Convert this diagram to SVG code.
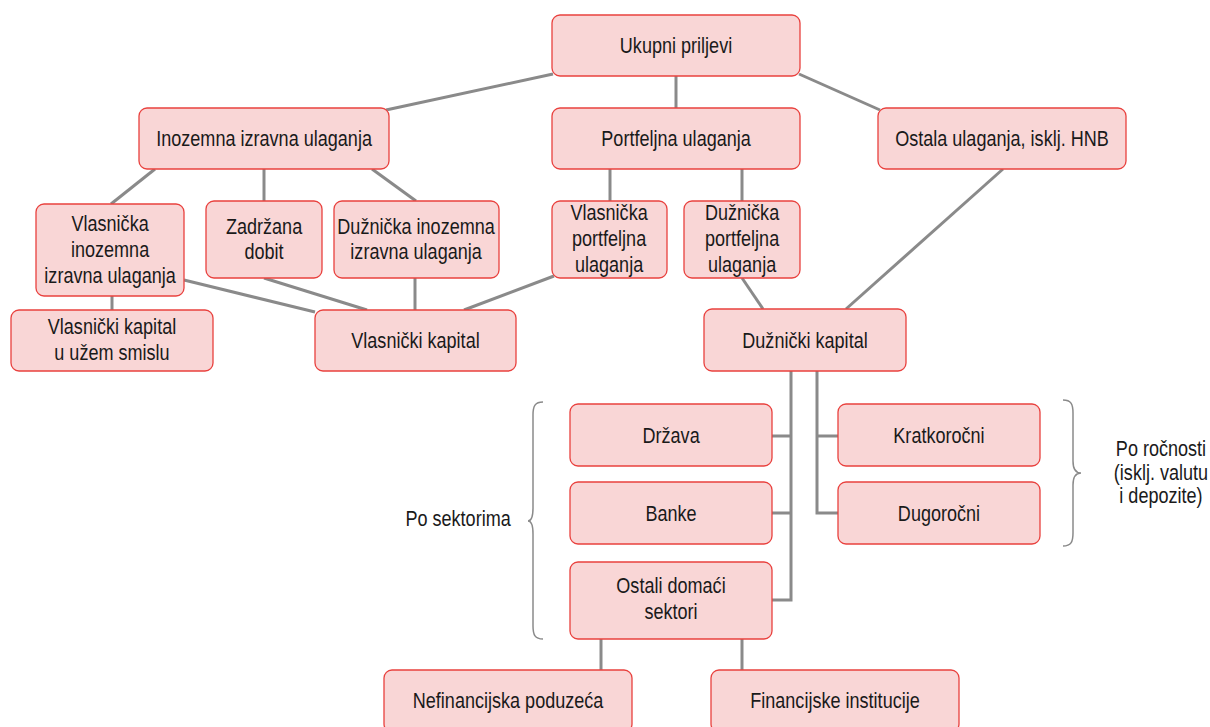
<svg xmlns="http://www.w3.org/2000/svg" width="1210" height="727" viewBox="0 0 1210 727">
<style>
.box{fill:#f9d6d6;stroke:#e9413e;stroke-width:1.3}
.t{font-family:"Liberation Sans",Arial,sans-serif;font-size:21.5px;fill:#1a1a1a;text-anchor:middle;transform-box:fill-box;transform-origin:center;transform:scaleX(0.84)}
.c{fill:none;stroke:#8a8a8a;stroke-width:3}
.br{fill:none;stroke:#8a8a8a;stroke-width:1.5}
</style>
<rect width="1210" height="727" fill="#ffffff"/>
<g id="connectors">
<line class="c" x1="553" y1="74" x2="386" y2="110"/>
<line class="c" x1="676" y1="76" x2="676" y2="108"/>
<line class="c" x1="799" y1="74" x2="880" y2="110"/>
<line class="c" x1="155" y1="169" x2="111" y2="204"/>
<line class="c" x1="264" y1="169" x2="264" y2="201"/>
<line class="c" x1="372" y1="169" x2="416" y2="201"/>
<line class="c" x1="610" y1="169" x2="610" y2="201"/>
<line class="c" x1="742" y1="169" x2="742" y2="201"/>
<line class="c" x1="1003" y1="169" x2="846" y2="309"/>
<line class="c" x1="112" y1="296" x2="112" y2="310"/>
<line class="c" x1="184" y1="280" x2="315" y2="312"/>
<line class="c" x1="264" y1="278" x2="367" y2="310"/>
<line class="c" x1="415" y1="278" x2="415" y2="310"/>
<line class="c" x1="554" y1="276" x2="464" y2="310"/>
<line class="c" x1="742" y1="278" x2="763" y2="309"/>
<path class="c" d="M791,371 V600 H772 M791,436 H772 M791,513 H772"/>
<path class="c" d="M817,371 V513 H838 M817,436 H838"/>
<line class="c" x1="601" y1="639" x2="601" y2="670"/>
<line class="c" x1="742" y1="639" x2="742" y2="670"/>
</g>
<g id="n1"><rect class="box" x="552" y="15" width="248" height="61" rx="8"/><text class="t" x="676" y="53">Ukupni priljevi</text></g>
<g id="n2"><rect class="box" x="139" y="108" width="250" height="61" rx="8"/><text class="t" x="264" y="146">Inozemna izravna ulaganja</text></g>
<g id="n3"><rect class="box" x="552" y="108" width="248" height="61" rx="8"/><text class="t" x="676" y="146">Portfeljna ulaganja</text></g>
<g id="n4"><rect class="box" x="878" y="108" width="248" height="61" rx="8"/><text class="t" x="1002" y="146">Ostala ulaganja, isklj. HNB</text></g>
<g id="n5"><rect class="box" x="36" y="204" width="148" height="92" rx="8"/><text class="t" x="110" y="231">Vlasnička</text><text class="t" x="110" y="257">inozemna</text><text class="t" x="110" y="283">izravna ulaganja</text></g>
<g id="n6"><rect class="box" x="206" y="201" width="116" height="77" rx="8"/><text class="t" x="264" y="234">Zadržana</text><text class="t" x="264" y="259">dobit</text></g>
<g id="n7"><rect class="box" x="334" y="201" width="165" height="77" rx="8"/><text class="t" x="416" y="234">Dužnička inozemna</text><text class="t" x="416" y="259">izravna ulaganja</text></g>
<g id="n8"><rect class="box" x="552" y="201" width="115" height="77" rx="8"/><text class="t" x="609" y="220">Vlasnička</text><text class="t" x="609" y="246">portfeljna</text><text class="t" x="609" y="272">ulaganja</text></g>
<g id="n9"><rect class="box" x="684" y="201" width="116" height="77" rx="8"/><text class="t" x="742" y="220">Dužnička</text><text class="t" x="742" y="246">portfeljna</text><text class="t" x="742" y="272">ulaganja</text></g>
<g id="n10"><rect class="box" x="11" y="310" width="202" height="61" rx="8"/><text class="t" x="112" y="334">Vlasnički kapital</text><text class="t" x="112" y="360">u užem smislu</text></g>
<g id="n11"><rect class="box" x="315" y="310" width="201" height="61" rx="8"/><text class="t" x="415.5" y="348">Vlasnički kapital</text></g>
<g id="n12"><rect class="box" x="704" y="309" width="202" height="62" rx="8"/><text class="t" x="805" y="348">Dužnički kapital</text></g>
<g id="n13"><rect class="box" x="570" y="404" width="202" height="62" rx="8"/><text class="t" x="671" y="443">Država</text></g>
<g id="n14"><rect class="box" x="570" y="482" width="202" height="62" rx="8"/><text class="t" x="671" y="521">Banke</text></g>
<g id="n15"><rect class="box" x="570" y="562" width="202" height="77" rx="8"/><text class="t" x="671" y="593">Ostali domaći</text><text class="t" x="671" y="619">sektori</text></g>
<g id="n16"><rect class="box" x="838" y="404" width="202" height="62" rx="8"/><text class="t" x="939" y="443">Kratkoročni</text></g>
<g id="n17"><rect class="box" x="838" y="482" width="202" height="62" rx="8"/><text class="t" x="939" y="521">Dugoročni</text></g>
<g id="n18"><rect class="box" x="384" y="670" width="248" height="62" rx="8"/><text class="t" x="508" y="708">Nefinancijska poduzeća</text></g>
<g id="n19"><rect class="box" x="711" y="670" width="248" height="62" rx="8"/><text class="t" x="835" y="708">Financijske institucije</text></g>
<g id="brace-left">
<path class="br" d="M543,402 C535,402 533,406 533,415 L533,508 C533,516 531,521 528,521 C531,521 533,526 533,534 L533,626 C533,635 535,639 543,639"/>
<text class="t" x="458" y="526">Po sektorima</text>
</g>
<g id="brace-right">
<path class="br" d="M1063,400 C1071,400 1073,404 1073,413 L1073,461 C1073,469 1075,473 1081,473 C1075,473 1073,477 1073,485 L1073,533 C1073,542 1071,546 1063,546"/>
<text class="t" x="1161" y="456">Po ročnosti</text>
<text class="t" x="1161" y="480">(isklj. valutu</text>
<text class="t" x="1161" y="503">i depozite)</text>
</g>
</svg>
